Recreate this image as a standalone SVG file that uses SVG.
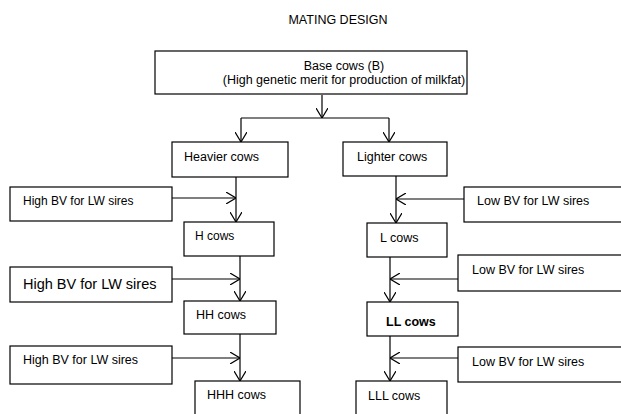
<svg xmlns="http://www.w3.org/2000/svg" width="621" height="414" viewBox="0 0 621 414">
<style>
text{font-family:"Liberation Sans",Arial,sans-serif;font-size:12.5px;fill:#000}
.box{fill:#fff;stroke:#000;stroke-width:1.2}
.ln{fill:none;stroke:#000;stroke-width:1.2}
.big{font-size:14.5px}
.sm{font-size:12px}
.bold{font-weight:bold;font-size:12.5px}
</style>
<defs>
<marker id="v" viewBox="0 0 10 12" refX="10" refY="6" markerWidth="10" markerHeight="12" markerUnits="userSpaceOnUse" orient="auto">
<path d="M0,0 L10,6 L0,12" fill="none" stroke="#000" stroke-width="1.2"/>
</marker>
</defs>
<rect width="621" height="414" fill="#fff"/>
<text x="338" y="24" text-anchor="middle">MATING DESIGN</text>
<g id="connectors">
<line class="ln" x1="322" y1="95" x2="322" y2="118" marker-end="url(#v)"/>
<line class="ln" x1="241" y1="118" x2="389" y2="118"/>
<line class="ln" x1="241" y1="118" x2="241" y2="142" marker-end="url(#v)"/>
<line class="ln" x1="389" y1="118" x2="389" y2="142" marker-end="url(#v)"/>
<line class="ln" x1="236" y1="177" x2="236" y2="222" marker-end="url(#v)"/>
<line class="ln" x1="172" y1="198" x2="236" y2="198" marker-end="url(#v)"/>
<line class="ln" x1="240" y1="256" x2="240" y2="301" marker-end="url(#v)"/>
<line class="ln" x1="172" y1="279" x2="240" y2="279" marker-end="url(#v)"/>
<line class="ln" x1="240" y1="334" x2="240" y2="381" marker-end="url(#v)"/>
<line class="ln" x1="172" y1="358" x2="240" y2="358" marker-end="url(#v)"/>
<line class="ln" x1="396" y1="176" x2="396" y2="223" marker-end="url(#v)"/>
<line class="ln" x1="464" y1="199" x2="396" y2="199" marker-end="url(#v)"/>
<line class="ln" x1="390" y1="257" x2="390" y2="302" marker-end="url(#v)"/>
<line class="ln" x1="458" y1="279" x2="390" y2="279" marker-end="url(#v)"/>
<line class="ln" x1="390" y1="336" x2="390" y2="381" marker-end="url(#v)"/>
<line class="ln" x1="458" y1="358" x2="390" y2="358" marker-end="url(#v)"/>
</g>
<g id="base"><rect class="box" x="155" y="51" width="312" height="43"/>
<text x="344" y="70" text-anchor="middle">Base cows (B)</text>
<text x="344" y="84" text-anchor="middle">(High genetic merit for production of milkfat)</text></g>
<g id="heavier"><rect class="box" x="172" y="142" width="116" height="35"/><text x="184" y="161">Heavier cows</text></g>
<g id="lighter"><rect class="box" x="343" y="142" width="104" height="34"/><text x="357" y="161">Lighter cows</text></g>
<g id="sireH1"><rect class="box" x="10" y="187" width="162" height="34"/><text class="sm" x="23" y="205">High BV for LW sires</text></g>
<g id="sireH2"><rect class="box" x="10" y="267" width="162" height="35"/><text class="big" x="23" y="289">High BV for LW sires</text></g>
<g id="sireH3"><rect class="box" x="10" y="346" width="162" height="38"/><text x="23" y="364">High BV for LW sires</text></g>
<g id="H"><rect class="box" x="184" y="222" width="90" height="34"/><text class="sm" x="195" y="240">H cows</text></g>
<g id="HH"><rect class="box" x="184" y="301" width="92" height="33"/><text x="196" y="319">HH cows</text></g>
<g id="HHH"><rect class="box" x="195" y="381" width="105" height="40"/><text x="207" y="399">HHH cows</text></g>
<g id="sireL1"><rect class="box" x="464" y="187" width="162" height="35"/><text x="477" y="205">Low BV for LW sires</text></g>
<g id="sireL2"><rect class="box" x="458" y="255" width="168" height="36"/><text x="472" y="274">Low BV for LW sires</text></g>
<g id="sireL3"><rect class="box" x="458" y="347" width="168" height="35"/><text x="472" y="366">Low BV for LW sires</text></g>
<g id="L"><rect class="box" x="367" y="223" width="80" height="34"/><text x="380" y="242">L cows</text></g>
<g id="LL"><rect class="box" x="367" y="302" width="91" height="34"/><text class="bold" x="386" y="326">LL cows</text></g>
<g id="LLL"><rect class="box" x="356" y="381" width="91" height="40"/><text x="368" y="400">LLL cows</text></g>
</svg>
